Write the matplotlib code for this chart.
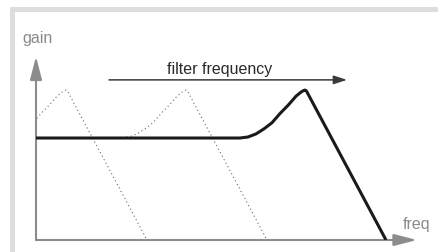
import matplotlib
matplotlib.use("Agg")
import matplotlib.pyplot as plt
from matplotlib.patches import Rectangle, FancyArrowPatch

# filter response (freq in arbitrary units, gain relative to passband = 1)
freq = [0.0, 2.04, 2.12, 2.20, 2.28, 2.36, 2.44, 2.52, 2.60, 2.65, 2.675, 2.69, 2.705, 3.50]
gain = [1.0, 1.00, 1.01, 1.04, 1.09, 1.15, 1.24, 1.32, 1.41, 1.45, 1.465, 1.47, 1.46, 0.00]

# earlier cutoff settings drawn dotted (shift of the same response)
ghost_shifts = [-2.39, -1.19]

# axis arrows and sweep arrow
x_axis_end = 3.81
y_axis_end = 1.80
sweep_start = 0.73
sweep_end = 3.11
sweep_level = 1.57

W, H = 438, 253
fig = plt.figure(figsize=(W / 100, H / 100), dpi=100)
fig.patch.set_facecolor("white")

# light gray frame (top and left bands)
frame_col = "#dddddd"
fig.add_artist(Rectangle((10 / W, (H - 13) / H), 1 - 10 / W, 5 / H,
                         transform=fig.transFigure, color=frame_col, lw=0))
fig.add_artist(Rectangle((10 / W, 0), 5 / W, (H - 8) / H,
                         transform=fig.transFigure, color=frame_col, lw=0))

ax = fig.add_axes([36 / W, 12 / H, 402 / W, 241 / H])
ax.set_xlim(0, 4.02)
ax.set_ylim(0, 2.363)
ax.axis("off")

font = "Liberation Sans"

# dotted ghost responses
for s in ghost_shifts:
    ax.plot([f + s for f in freq], gain, color="#6a6a6a", lw=0.8,
            linestyle=(0, (1, 2.6)), zorder=2)

# main response
ax.plot(freq, gain, color="#1a1a1a", lw=2.2, solid_joinstyle="round",
        solid_capstyle="butt", zorder=4)

# axes with arrow heads
axis_col = "#8c8c8c"
for xy in [(x_axis_end, 0), (0, y_axis_end)]:
    arr = FancyArrowPatch((0, 0), xy, arrowstyle="-|>,head_length=14,head_width=3.6",
                          mutation_scale=1, color=axis_col, lw=1.5,
                          shrinkA=0, shrinkB=0, clip_on=False, zorder=3)
    ax.add_patch(arr)

# filter frequency sweep arrow
arr = FancyArrowPatch((sweep_start, sweep_level), (sweep_end, sweep_level),
                      arrowstyle="-|>,head_length=8,head_width=2.6",
                      mutation_scale=1, color="#3a3a3a", lw=1.1,
                      shrinkA=0, shrinkB=0, zorder=3)
ax.add_patch(arr)
ax.text((sweep_start + sweep_end) / 2 - 0.08, 1.637, "filter frequency",
        ha="center", va="baseline", fontsize=11.5, color="#2a2a2a", family=font)

ax.text(-0.14, 1.94, "gain", ha="left", va="baseline", fontsize=11.5,
        color="#8a8a8a", family=font)
ax.text(3.67, 0.118, "freq", ha="left", va="baseline", fontsize=11.5,
        color="#8a8a8a", family=font)

fig.savefig("out.png", dpi=100)
